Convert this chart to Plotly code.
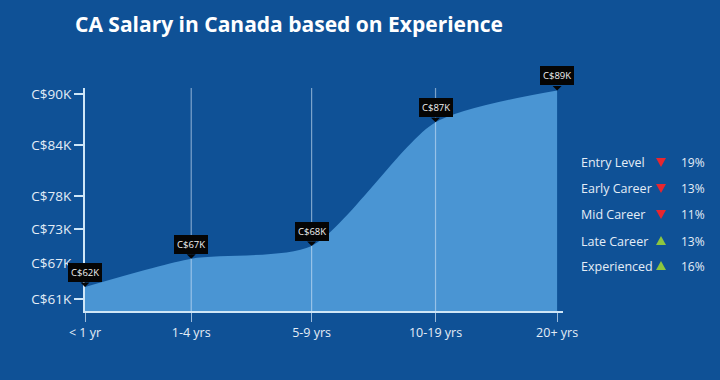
import plotly.graph_objects as go

# ---- data ----
categories = ["< 1 yr", "1-4 yrs", "5-9 yrs", "10-19 yrs", "20+ yrs"]
x_positions = [0, 0.9, 1.92, 2.97, 4.0]
salary_k = [62.7, 66.7, 68.5, 86.0, 90.5]
point_labels = ["C$62K", "C$67K", "C$68K", "C$87K", "C$89K"]
tick_vals = [61, 66.0, 70.9, 75.6, 82.8, 90]
tick_text = ["C$61K", "C$67K", "C$73K", "C$78K", "C$84K", "C$90K"]
legend_names = ["Entry Level", "Early Career", "Mid Career", "Late Career", "Experienced"]
legend_dirs = ["down", "down", "down", "up", "up"]
legend_pcts = ["19%", "13%", "11%", "13%", "16%"]

BG = "#0F5196"
FILL = "#4A95D3"
AXIS = "#cfe6f7"
TXT = "#e4edf6"
FONT = "Open Sans"

fig = go.Figure()
fig.add_trace(go.Scatter(
    x=x_positions, y=salary_k, mode="lines",
    line=dict(shape="spline", smoothing=0.7, width=0, color=FILL),
    fill="tozeroy", fillcolor=FILL, hoverinfo="skip",
))

shapes = []
annotations = []
# vertical grid lines above the fill
for xv in x_positions[1:4]:
    shapes.append(dict(type="line", xref="x", yref="paper", x0=xv, x1=xv, y0=0, y1=1,
                       line=dict(color="rgba(215,232,248,0.55)", width=1.2), layer="above"))

# value labels: black boxes with a pointer
for xv, yv, lab in zip(x_positions, salary_k, point_labels):
    annotations.append(dict(x=xv, y=yv, xref="x", yref="y", text="",
                            showarrow=True, ax=0, ay=-6, arrowhead=1, arrowsize=1.5,
                            arrowwidth=1, arrowcolor="#050505", standoff=0))
    annotations.append(dict(x=xv, y=yv, xref="x", yref="y", text=lab,
                            showarrow=False, yanchor="bottom", yshift=5,
                            bgcolor="#050505", borderpad=3, borderwidth=0,
                            font=dict(family=FONT, size=9.5, color="#f2f2f2")))

# legend on the right
plot_l, plot_w, plot_b, plot_h = 85, 478, 311, 223
def fx(px):
    return (px - plot_l) / plot_w
def fy(py):
    return (plot_b - py) / plot_h

rows_y = [162, 188, 214, 241, 266]
for name, d, pct, py in zip(legend_names, legend_dirs, legend_pcts, rows_y):
    annotations.append(dict(x=fx(579), y=fy(py), xref="paper", yref="paper", text=name,
                            showarrow=False, xanchor="left", yanchor="middle",
                            font=dict(family=FONT, size=12.5, color=TXT)))
    annotations.append(dict(x=fx(679), y=fy(py), xref="paper", yref="paper", text=pct,
                            showarrow=False, xanchor="left", yanchor="middle",
                            font=dict(family=FONT, size=12, color=TXT)))
    if d == "down":
        path = "M -5,4 L 5,4 L 0,-5 Z"
        col = "#e8262f"
    else:
        path = "M -5,-4 L 5,-4 L 0,5 Z"
        col = "#8dc63f"
    shapes.append(dict(type="path", xref="paper", yref="paper", xsizemode="pixel",
                       ysizemode="pixel", xanchor=fx(661), yanchor=fy(py), path=path,
                       fillcolor=col, line=dict(width=0)))

fig.update_layout(
    width=720, height=380,
    margin=dict(l=85, r=157, t=88, b=69),
    paper_bgcolor=BG, plot_bgcolor=BG,
    showlegend=False,
    title=dict(text="<b>CA Salary in Canada based on Experience</b>",
               x=75 / 720, xanchor="left", xref="container",
               y=1 - 25 / 380, yanchor="middle", yref="container",
               font=dict(family=FONT, size=21, color="#ffffff")),
    shapes=shapes, annotations=annotations,
    xaxis=dict(range=[0, 4.05], tickvals=x_positions, ticktext=categories,
               showgrid=False, zeroline=False, showline=True, linecolor=AXIS, linewidth=2,
               ticks="outside", ticklen=9, tickwidth=1.2, tickcolor="rgba(215,232,248,0.7)",
               tickfont=dict(family=FONT, size=12.5, color=TXT), fixedrange=True),
    yaxis=dict(range=[59.3, 90.85], tickvals=tick_vals, ticktext=tick_text,
               showgrid=False, zeroline=False, showline=True, linecolor=AXIS, linewidth=2,
               ticks="outside", ticklen=9, tickwidth=2, tickcolor=AXIS,
               tickfont=dict(family=FONT, size=13.5, color=TXT), fixedrange=True),
)

fig.write_html("out.html", config={"displayModeBar": False},
               post_script="document.body.style.margin='0';")
